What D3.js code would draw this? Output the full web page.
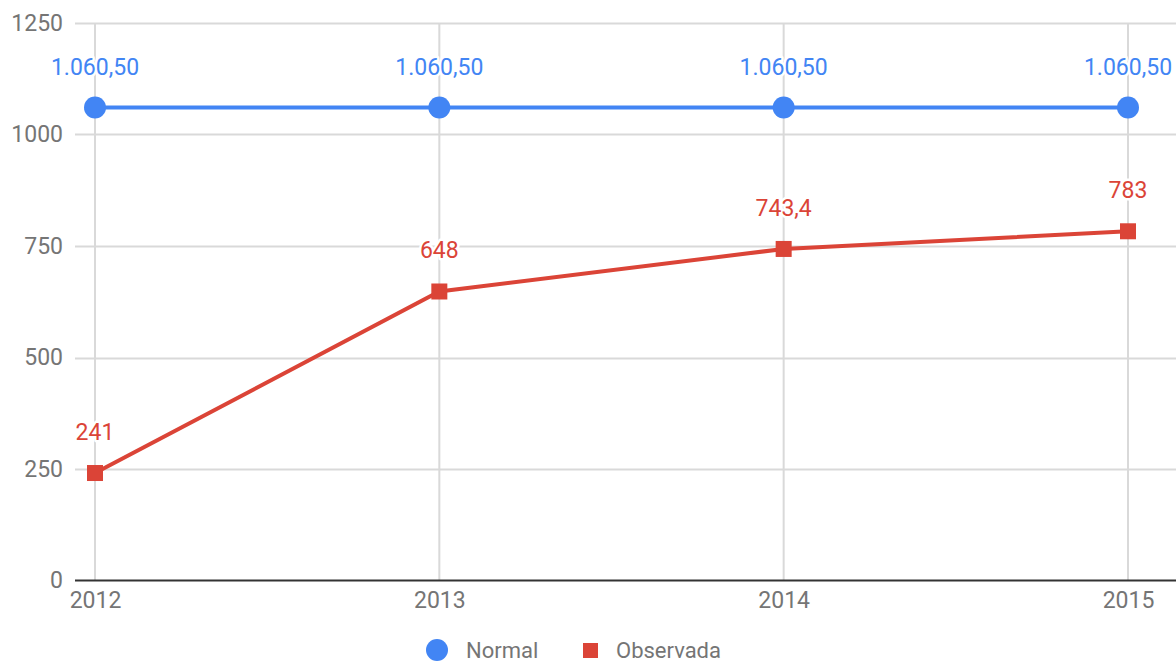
<!DOCTYPE html>
<html><head><meta charset="utf-8">
<script src="https://cdn.jsdelivr.net/npm/d3@7"></script>
<style>body{margin:0;background:#fff}svg{display:block}text{font-family:Roboto,"Noto Sans",sans-serif}</style>
</head><body><svg id="c" width="1176" height="662"></svg>
<script>
const years = ["2012","2013","2014","2015"];
const normal = [1060.5,1060.5,1060.5,1060.5];
const normalLabels = ["1.060,50","1.060,50","1.060,50","1.060,50"];
const observada = [241,648,743.4,783];
const observadaLabels = ["241","648","743,4","783"];
const yTicks = [0,250,500,750,1000,1250];
const seriesNames = ["Normal","Observada"];

const svg = d3.select("#c");
const x = d3.scalePoint().domain(years).range([95,1128]);
const y = d3.scaleLinear().domain([0,1250]).range([580.5,23]);
const blue="#4285F4", red="#DB4437";

svg.append("g").selectAll("line").data(yTicks.filter(d=>d>0)).join("line")
 .attr("x1",75).attr("x2",1176).attr("y1",d=>Math.round(y(d))+0.5).attr("y2",d=>Math.round(y(d))+0.5)
 .attr("stroke","#d9d9d9").attr("stroke-width",2);
svg.append("g").selectAll("line").data(years).join("line")
 .attr("x1",d=>x(d)).attr("x2",d=>x(d)).attr("y1",y(1250)).attr("y2",y(0))
 .attr("stroke","#d9d9d9").attr("stroke-width",2);
svg.append("line").attr("x1",75).attr("x2",1176).attr("y1",y(0)).attr("y2",y(0)).attr("stroke","#333").attr("stroke-width",2);

const yAxis = d3.axisLeft(y).tickValues(yTicks).tickFormat(d3.format("d")).tickSize(0).tickPadding(0);
const gy = svg.append("g").attr("transform","translate(63,0)").call(yAxis);
gy.select(".domain").remove();
gy.selectAll("text").attr("font-size",23).attr("fill","#757575").attr("font-family","Roboto");
const xAxis = d3.axisBottom(x).tickSize(0).tickPadding(0);
const gx = svg.append("g").attr("transform","translate(0,592)").call(xAxis);
gx.select(".domain").remove();
gx.selectAll("text").attr("font-size",23).attr("fill","#757575").attr("font-family","Roboto");

const line = d3.line().x((d,i)=>x(years[i])).y(d=>y(d));
svg.append("path").datum(normal).attr("d",line).attr("fill","none").attr("stroke",blue).attr("stroke-width",4);
svg.append("path").datum(observada).attr("d",line).attr("fill","none").attr("stroke",red).attr("stroke-width",4);

svg.append("g").selectAll("circle").data(normal).join("circle")
 .attr("cx",(d,i)=>x(years[i])).attr("cy",d=>y(d)).attr("r",11).attr("fill",blue);
svg.append("g").selectAll("rect").data(observada).join("rect")
 .attr("x",(d,i)=>x(years[i])-8).attr("y",d=>y(d)-8).attr("width",16).attr("height",16).attr("fill",red);

function labels(data, txt, color){
 svg.append("g").selectAll("text").data(data).join("text")
  .attr("x",(d,i)=>x(years[i])).attr("y",d=>y(d)-33)
  .attr("text-anchor","middle").attr("font-size",23).attr("fill",color)
  .attr("stroke","#fff").attr("stroke-width",5).attr("paint-order","stroke").attr("stroke-linejoin","round")
  .text((d,i)=>txt[i]);
}
labels(normal, normalLabels, blue);
labels(observada, observadaLabels, red);

const lg = svg.append("g");
lg.append("circle").attr("cx",437).attr("cy",650).attr("r",11).attr("fill",blue);
lg.append("text").attr("x",466).attr("y",650).attr("dy","0.35em").attr("font-size",22).attr("fill","#757575").text(seriesNames[0]);
lg.append("rect").attr("x",583).attr("y",643).attr("width",15).attr("height",15).attr("fill",red);
lg.append("text").attr("x",616).attr("y",650).attr("dy","0.35em").attr("font-size",22).attr("fill","#757575").text(seriesNames[1]);
</script></body></html>
